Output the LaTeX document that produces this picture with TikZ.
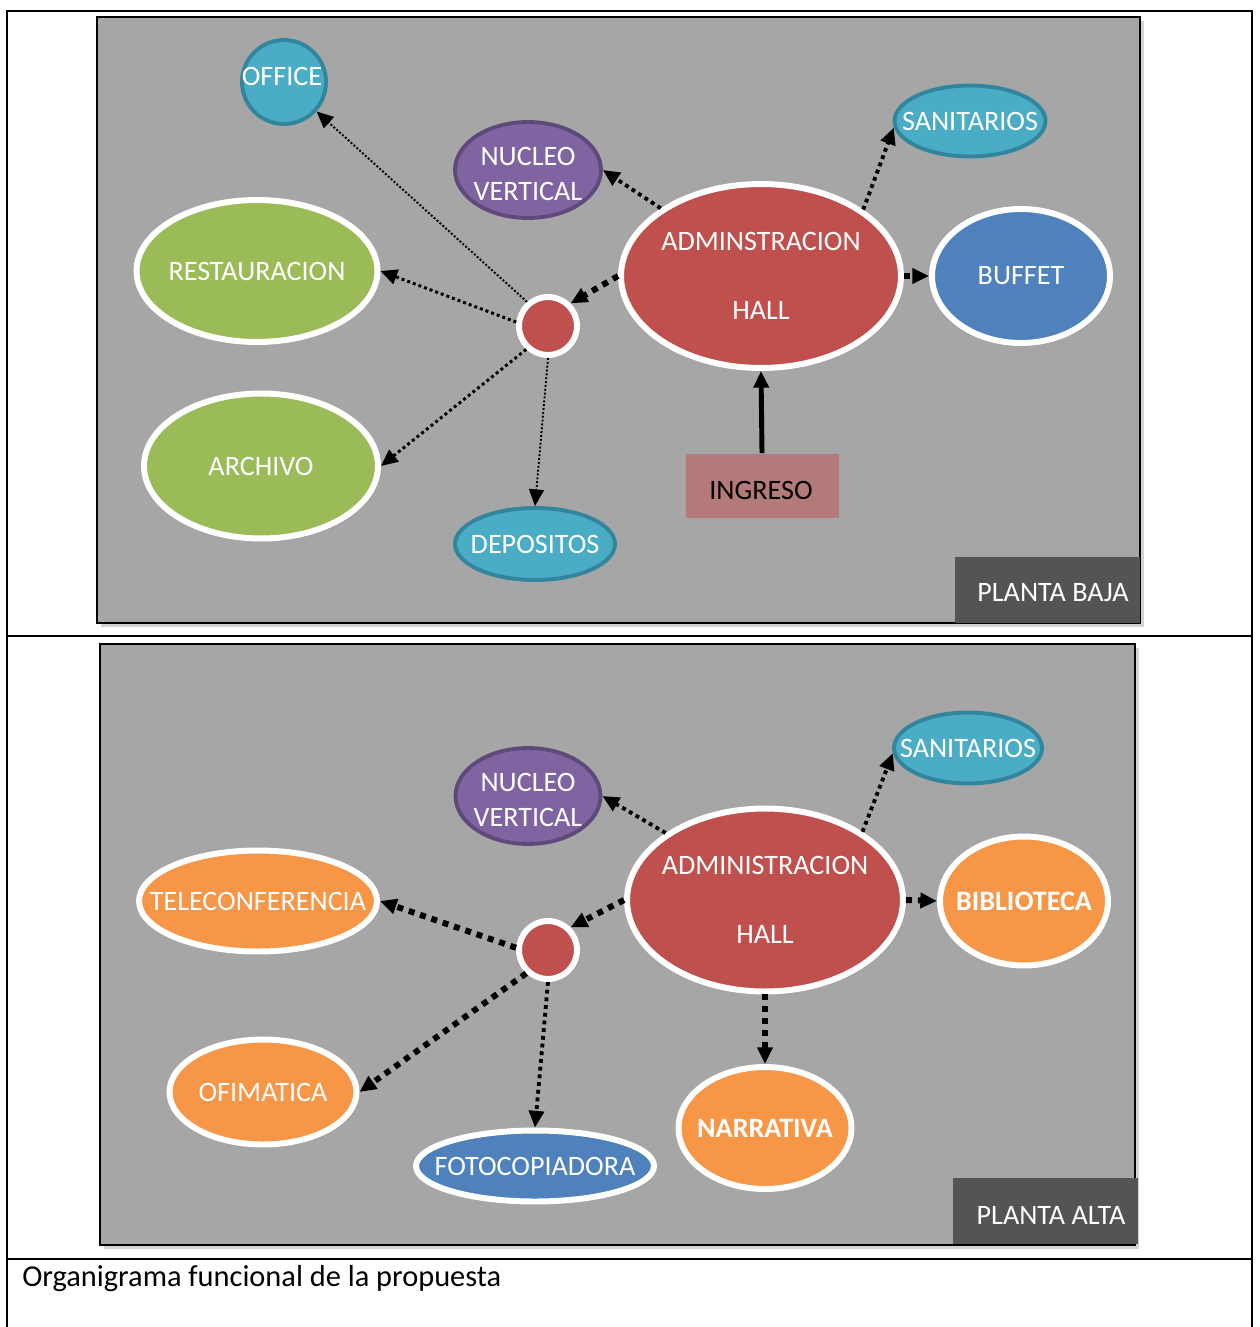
\documentclass[tikz,border=0pt]{standalone}
\usepackage{fontspec}
\setmainfont{Carlito}
\usepackage{tikz}
\usetikzlibrary{shapes.geometric,arrows.meta,shadows}

\definecolor{panelgray}{HTML}{A6A6A6}
\definecolor{labelgray}{HTML}{545454}
\definecolor{admred}{HTML}{C0504D}
\definecolor{leafgreen}{HTML}{9BBB59}
\definecolor{aquablue}{HTML}{4BACC6}
\definecolor{aquadark}{HTML}{31859C}
\definecolor{violet}{HTML}{8064A2}
\definecolor{violetdark}{HTML}{5F497A}
\definecolor{steelblue}{HTML}{4F81BD}
\definecolor{warmorange}{HTML}{F79646}
\definecolor{ingresorose}{HTML}{B47A79}

\begin{document}
\begin{tikzpicture}[x=0.02cm, y=-0.02cm,
    every node/.style={font=\fontsize{16}{19}\selectfont, text=white, inner sep=0pt},
    room/.style={ellipse, draw=white, line width=3.4pt, fill=#1,
        drop shadow={opacity=0.3, shadow xshift=1.5pt, shadow yshift=-1.5pt}},
    service/.style={ellipse, line width=2.2pt, fill=aquablue, draw=aquadark},
    core/.style={ellipse, line width=2.2pt, fill=violet, draw=violetdark},
    hub/.style={circle, draw=white, line width=3.4pt, fill=admred, minimum size=1.16cm,
        drop shadow={opacity=0.3, shadow xshift=1.5pt, shadow yshift=-1.5pt}},
    link/.style={line width=#1, dash pattern=on #1 off #1, -{Triangle[length=9.5pt, width=8.5pt]}},
    floorlabel/.style={fill=labelgray, minimum width=3.7cm, minimum height=1.32cm}]
    \useasboundingbox (0,0) rectangle (1259,1327);
    % Draw table frame
    \draw[line width=1.1pt] (7,1327) -- (7,11) -- (1252,11) -- (1252,1327);
    \draw[line width=1.1pt] (7,636) -- (1252,636);
    \draw[line width=1.1pt] (7,1259) -- (1252,1259);
    % Draw panels
    \draw[fill=panelgray, line width=1.1pt, drop shadow={opacity=0.35, shadow xshift=2pt, shadow yshift=-2pt}] (97,17) rectangle (1140,623);
    \draw[fill=panelgray, line width=1.1pt, drop shadow={opacity=0.35, shadow xshift=2pt, shadow yshift=-2pt}] (100,644) rectangle (1135,1245);

    % Planta baja
    \node[circle, line width=2.2pt, fill=aquablue, draw=aquadark, minimum size=1.68cm] (offA) at (284,82) {};
    \node (offT) at (282,76) {OFFICE};
    \node[core, minimum width=2.92cm, minimum height=1.92cm, label={[align=center, yshift=-2.5pt]center:NUCLEO\\[1pt]VERTICAL}] (nucA) at (528,170) {};
    \node[service, minimum width=3.02cm, minimum height=1.42cm, label=center:SANITARIOS] (sanA) at (970,121) {};
    \node[room=leafgreen, minimum width=4.82cm, minimum height=2.84cm, label=center:RESTAURACION] (resA) at (257,271) {};
    \node[room=admred, minimum width=5.6cm, minimum height=3.68cm, label={[align=center]center:ADMINSTRACION\\[20pt]HALL}] (admA) at (761,276) {};
    \node[room=steelblue, minimum width=3.56cm, minimum height=2.68cm, label=center:BUFFET] (bufA) at (1021,276) {};
    \node[hub] (hubA) at (548,326) {};
    \node[room=leafgreen, minimum width=4.68cm, minimum height=2.9cm, label=center:ARCHIVO] (arcA) at (261,466) {};
    \node[service, minimum width=3.2cm, minimum height=1.44cm, label=center:DEPOSITOS] (depA) at (535,544) {};
    \node[fill=ingresorose, minimum width=3.06cm, minimum height=1.3cm] (ingA) at (762,486) {};
    \node[text=black] (ingT) at (761,490) {INGRESO};
    \node[floorlabel] (bajaL) at (1047,590) {};
    \node (bajaT) at (1053,593) {PLANTA BAJA};
    % Links planta baja
    \draw[link=2.2pt] (admA.146) -- (nucA.east);
    \draw[link=2.2pt] (admA.33) -- (sanA.185);
    \draw[link=3.4pt] (admA.east) -- (bufA.west);
    \draw[link=3.4pt] (admA.west) -- (hubA.45);
    \draw[link=1.7pt] (hubA.173) -- (resA.east);
    \draw[link=1.1pt] (hubA.131) -- (offA);
    \draw[link=1.7pt] (hubA.227) -- (arcA.east);
    \draw[link=1.1pt] (hubA.south) -- (depA.north);
    \draw[line width=2.8pt, -{Triangle[length=9.5pt, width=8.5pt]}] (ingA.north) -- (admA.south);

    % Planta alta
    \node[core, minimum width=2.9cm, minimum height=1.92cm, label={[align=center, yshift=-2.5pt]center:NUCLEO\\[1pt]VERTICAL}] (nucB) at (528,796) {};
    \node[service, minimum width=2.96cm, minimum height=1.42cm, label=center:SANITARIOS] (sanB) at (968,748) {};
    \node[room=warmorange, minimum width=4.76cm, minimum height=2.02cm, label=center:TELECONFERENCIA] (telB) at (258,901) {};
    \node[room=admred, minimum width=5.52cm, minimum height=3.66cm, label={[align=center]center:ADMINISTRACION\\[20pt]HALL}] (admB) at (765,900) {};
    \node[room=warmorange, minimum width=3.36cm, minimum height=2.58cm, label={[font=\fontsize{16}{19}\selectfont\bfseries]center:BIBLIOTECA}] (bibB) at (1024,901) {};
    \node[hub] (hubB) at (548,950) {};
    \node[room=warmorange, minimum width=3.74cm, minimum height=2.1cm, label=center:OFIMATICA] (ofiB) at (263,1092) {};
    \node[room=steelblue, minimum width=4.76cm, minimum height=1.42cm, label=center:FOTOCOPIADORA] (fotB) at (535,1166) {};
    \node[room=warmorange, minimum width=3.46cm, minimum height=2.44cm, label={[font=\fontsize{16}{19}\selectfont\bfseries]center:NARRATIVA}] (narB) at (765,1128) {};
    \node[floorlabel] (altaL) at (1045,1211) {};
    \node (altaT) at (1051,1215) {PLANTA ALTA};
    % Links planta alta
    \draw[link=2.2pt] (admB.146) -- (nucB.east);
    \draw[link=2.2pt] (admB.35) -- (sanB.184);
    \draw[link=3.4pt] (admB.east) -- (bibB.west);
    \draw[link=3.4pt] (admB.south) -- (narB.north);
    \draw[link=3.4pt] (admB.west) -- (hubB.45);
    \draw[link=3.4pt] (hubB.176) -- (telB.east);
    \draw[link=3.4pt] (hubB.227) -- (ofiB.east);
    \draw[link=2.2pt] (hubB.south) -- (fotB.north);

    % Caption
    \node[text=black, anchor=west, font=\fontsize{17.3}{20}\selectfont] (caption) at (22,1279) {Organigrama funcional de la propuesta};
\end{tikzpicture}
\end{document}
